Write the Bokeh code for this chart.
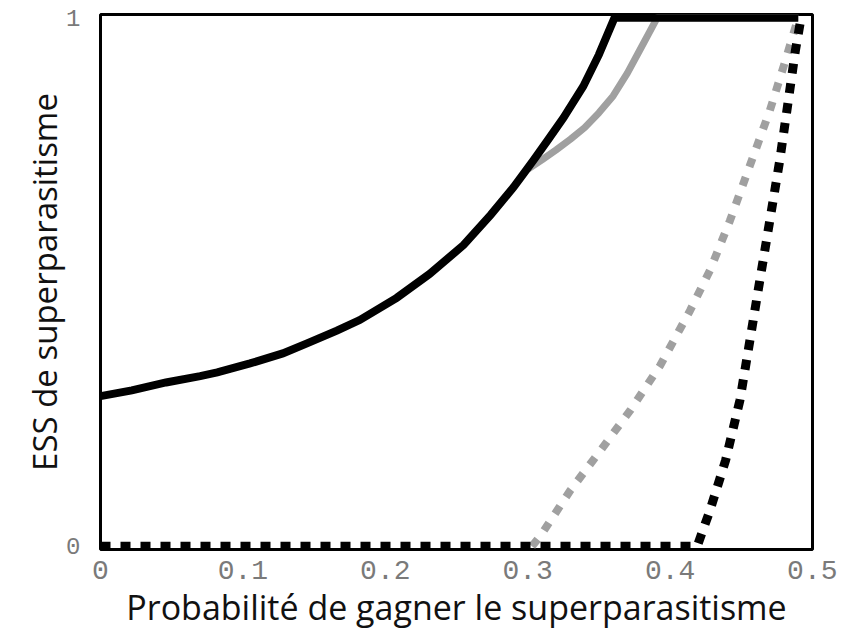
from bokeh.plotting import figure
from bokeh.models import Range1d, FixedTicker
from bokeh.embed import file_html
from bokeh.resources import INLINE

# Data
black_solid_x = [0.0, 0.022, 0.046, 0.07, 0.082, 0.105, 0.128, 0.145, 0.166, 0.182, 0.208, 0.231,
                 0.255, 0.274, 0.29, 0.304, 0.314, 0.325, 0.339, 0.35, 0.361, 0.49]
black_solid_y = [0.284, 0.295, 0.31, 0.322, 0.329, 0.346, 0.365, 0.384, 0.408, 0.428, 0.47, 0.515,
                 0.57, 0.627, 0.679, 0.73, 0.768, 0.81, 0.87, 0.93, 1.0, 1.0]

gray_solid_x = [0.3, 0.31, 0.32, 0.33, 0.34, 0.35, 0.36, 0.37, 0.38, 0.391, 0.49]
gray_solid_y = [0.713, 0.731, 0.75, 0.77, 0.792, 0.82, 0.852, 0.895, 0.945, 1.0, 1.0]

gray_dot_x = [0.303, 0.309, 0.33, 0.351, 0.372, 0.393, 0.414, 0.428, 0.442, 0.456, 0.47, 0.481, 0.49]
gray_dot_y = [0.0, 0.02, 0.106, 0.181, 0.257, 0.342, 0.446, 0.522, 0.616, 0.72, 0.824, 0.919, 1.0]

black_dot_x = [0.0, 0.419, 0.428, 0.439, 0.449, 0.456, 0.463, 0.47, 0.477, 0.483, 0.488, 0.492]
black_dot_y = [0.0, 0.0, 0.068, 0.163, 0.276, 0.389, 0.503, 0.616, 0.73, 0.843, 0.938, 1.0]

x_ticks = [0, 0.1, 0.2, 0.3, 0.4, 0.5]
x_tick_labels = ["0", "0.1", "0.2", "0.3", "0.4", "0.5"]
y_ticks = [0, 1]
y_tick_labels = ["0", "1"]

x_title = "Probabilité de gagner le superparasitisme"
y_title = "ESS de superparasitisme"

p = figure(
    frame_width=712, frame_height=535,
    x_range=Range1d(0, 0.5), y_range=Range1d(-0.006, 1.006),
    output_backend="svg", toolbar_location=None,
    min_border_left=100, min_border_top=14, min_border_right=25, min_border_bottom=70,
    background_fill_color="white", border_fill_color="white",
)
p.grid.visible = False
p.outline_line_color = "black"
p.outline_line_width = 3

for ax in (p.xaxis[0], p.yaxis[0]):
    ax.axis_line_color = None
    ax.major_tick_line_color = None
    ax.minor_tick_line_color = None
    ax.major_label_text_font = "Liberation Mono"
    ax.major_label_text_color = "#7a7a7a"
    ax.axis_label_text_font = "Open Sans"
    ax.axis_label_text_font_style = "normal"
    ax.axis_label_text_color = "#111111"

p.xaxis.ticker = FixedTicker(ticks=x_ticks)
p.xaxis.major_label_overrides = {t: l for t, l in zip(x_ticks, x_tick_labels)}
p.xaxis.major_label_text_font_size = "28px"
p.xaxis.major_label_standoff = 5
p.xaxis.axis_label = x_title
p.xaxis.axis_label_text_font_size = "34px"
p.xaxis.axis_label_standoff = 2

p.yaxis.ticker = FixedTicker(ticks=y_ticks)
p.yaxis.major_label_overrides = {t: l for t, l in zip(y_ticks, y_tick_labels)}
p.yaxis.major_label_text_font_size = "24px"
p.yaxis.major_label_standoff = 14
p.yaxis.axis_label = y_title
p.yaxis.axis_label_text_font_size = "33px"
p.yaxis.axis_label_standoff = -4

p.line(gray_solid_x, gray_solid_y, line_color="#a0a0a0", line_width=7, line_join="round")
p.line(black_solid_x, black_solid_y, line_color="black", line_width=8, line_join="miter")
p.line(gray_dot_x, gray_dot_y, line_color="#a0a0a0", line_width=8, line_dash="9 11", line_cap="butt")
p.line(black_dot_x, black_dot_y, line_color="black", line_width=9, line_dash="10 10", line_cap="butt")

open("out.html", "w").write(file_html(p, INLINE))
